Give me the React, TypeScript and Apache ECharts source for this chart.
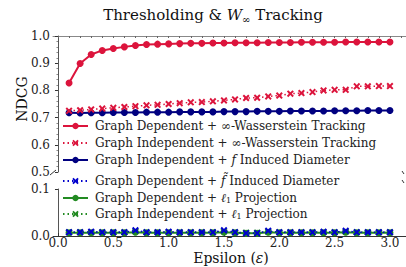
import React, { useEffect, useRef } from "react";
import * as echarts from "echarts";

const epsilon = [0.1, 0.2, 0.3, 0.4, 0.5, 0.6, 0.7, 0.8, 0.9, 1.0, 1.1, 1.2, 1.3, 1.4, 1.5, 1.6, 1.7, 1.8, 1.9, 2.0, 2.1, 2.2, 2.3, 2.4, 2.5, 2.6, 2.7, 2.8, 2.9, 3.0];

const depWass = [0.827, 0.899, 0.932, 0.947, 0.954, 0.960, 0.965, 0.969, 0.970, 0.971, 0.972, 0.973, 0.973, 0.974, 0.974, 0.975, 0.975, 0.975, 0.976, 0.976, 0.976, 0.977, 0.977, 0.977, 0.977, 0.978, 0.978, 0.978, 0.978, 0.978];
const indepWass = [0.725, 0.727, 0.730, 0.733, 0.736, 0.739, 0.742, 0.745, 0.747, 0.750, 0.753, 0.756, 0.757, 0.760, 0.763, 0.767, 0.772, 0.773, 0.778, 0.781, 0.788, 0.790, 0.794, 0.800, 0.802, 0.802, 0.815, 0.815, 0.816, 0.816];
const indepDiam = [0.718, 0.717, 0.718, 0.718, 0.719, 0.719, 0.719, 0.720, 0.720, 0.720, 0.721, 0.721, 0.721, 0.721, 0.722, 0.722, 0.722, 0.723, 0.723, 0.723, 0.724, 0.724, 0.724, 0.724, 0.725, 0.725, 0.725, 0.726, 0.726, 0.726];
const depDiam = [0.008, 0.008, 0.009, 0.008, 0.008, 0.008, 0.012, 0.008, 0.008, 0.009, 0.008, 0.008, 0.008, 0.008, 0.012, 0.008, 0.006, 0.006, 0.011, 0.008, 0.008, 0.008, 0.008, 0.009, 0.008, 0.011, 0.008, 0.008, 0.008, 0.008];
const depProj = [0.007, 0.007, 0.007, 0.007, 0.007, 0.007, 0.008, 0.007, 0.007, 0.007, 0.007, 0.007, 0.007, 0.007, 0.008, 0.007, 0.006, 0.006, 0.008, 0.007, 0.007, 0.007, 0.007, 0.007, 0.007, 0.008, 0.007, 0.007, 0.007, 0.007];
const indepProj = [0.008, 0.008, 0.008, 0.008, 0.008, 0.008, 0.010, 0.008, 0.008, 0.008, 0.008, 0.008, 0.008, 0.008, 0.010, 0.008, 0.007, 0.007, 0.009, 0.008, 0.008, 0.008, 0.008, 0.008, 0.008, 0.009, 0.008, 0.008, 0.008, 0.008];

const xTickLabels = [0, 0.5, 1.0, 1.5, 2.0, 2.5, 3.0];
const xMinorTicks = [0, 0.1, 0.2, 0.3, 0.4, 0.5, 0.6, 0.7, 0.8, 0.9, 1.0, 1.1, 1.2, 1.3, 1.4, 1.5, 1.6, 1.7, 1.8, 1.9, 2.0, 2.1, 2.2, 2.3, 2.4, 2.5, 2.6, 2.7, 2.8, 2.9, 3.0, 3.1];

const names = [
  "Graph Dependent + ∞-Wasserstein Tracking",
  "Graph Independent + ∞-Wasserstein Tracking",
  "Graph Independent + f Induced Diameter",
  "Graph Dependent + f̃ Induced Diameter",
  "Graph Dependent + l1 Projection",
  "Graph Independent + l1 Projection",
];
const legendLabels: Record<string, string> = {
  [names[0]]: names[0],
  [names[1]]: names[1],
  [names[2]]: "Graph Independent + {i|f} Induced Diameter",
  [names[3]]: "Graph Dependent + {i|f̃} Induced Diameter",
  [names[4]]: "Graph Dependent + {i|ℓ}{sub|1} Projection",
  [names[5]]: "Graph Independent + {i|ℓ}{sub|1} Projection",
};

const FONT = "DejaVu Serif";
const RED = "#DC143C";
const NAVY = "#000080";
const BLUE = "#0000CD";
const GREEN = "#228B22";
const XSYM = "path://M2,0 L5,3 L8,0 L10,2 L7,5 L10,8 L8,10 L5,7 L2,10 L0,8 L3,5 L0,2 Z";
const legendRows = [126, 143, 160, 181, 198, 214];

const pairs = (ys: number[]) => epsilon.map((x, i) => [x, ys[i]]);

export default function App() {
  const ref = useRef<HTMLDivElement>(null);
  useEffect(() => {
    const chart = echarts.init(ref.current!, null, { renderer: "svg" });
    const mkSeries = (name: string, ys: number[], color: string, lower: boolean, dotted: boolean, z: number) => ({
      name,
      type: "line",
      xAxisIndex: lower ? 1 : 0,
      yAxisIndex: lower ? 1 : 0,
      data: pairs(ys),
      symbol: dotted ? XSYM : "circle",
      symbolSize: 7,
      showSymbol: true,
      z,
      itemStyle: { color },
      lineStyle: { color, width: dotted ? 1.5 : 2, type: dotted ? [1.5, 3] : "solid" },
    });
    const legends = names.map((n, i) => ({
      orient: "vertical",
      left: 62,
      top: legendRows[i] - 7,
      padding: 0,
      itemWidth: 25,
      itemHeight: 8,
      data: [n],
      formatter: (nm: string) => legendLabels[nm],
      textStyle: {
        fontFamily: FONT, fontSize: 12, color: "#222", lineHeight: 14, padding: [0, 0, 0, 2],
        rich: {
          i: { fontFamily: FONT, fontSize: 12, fontStyle: "italic", color: "#222", lineHeight: 14 },
          sub: { fontFamily: FONT, fontSize: 8, color: "#222", lineHeight: 14, padding: [5, 0, 0, 0] },
        },
      },
    }));
    const option: any = {
      animation: false,
      textStyle: { fontFamily: FONT },
      grid: [
        { left: 53, top: 36, width: 356, height: 136 },
        { left: 53, top: 189, width: 356, height: 47 },
      ],
      xAxis: [
        {
          gridIndex: 0, type: "value", position: "top", min: -0.045, max: 3.145,
          axisLine: { show: true, lineStyle: { color: "#888", width: 1 } },
          axisTick: { show: true, inside: true, length: 2, customValues: xMinorTicks, lineStyle: { color: "#666" } },
          axisLabel: { show: false },
          splitLine: { show: false },
        },
        {
          gridIndex: 1, type: "value", position: "bottom", min: -0.045, max: 3.145,
          axisLine: { show: true, lineStyle: { color: "#333", width: 1 } },
          axisTick: { show: true, inside: true, length: 3, customValues: xTickLabels, lineStyle: { color: "#333" } },
          axisLabel: { show: true, customValues: xTickLabels, margin: 1, fontFamily: FONT, fontSize: 12, color: "#222", formatter: (v: number) => v.toFixed(1) },
          splitLine: { show: false },
        },
      ],
      yAxis: [
        {
          gridIndex: 0, type: "value", min: 0.5, max: 1.0, interval: 0.1,
          axisLine: { show: true, lineStyle: { color: "#555", width: 1 } },
          axisTick: { show: true, length: 3, lineStyle: { color: "#333" } },
          minorTick: { show: true, splitNumber: 5, length: 1.5, lineStyle: { color: "#888" } },
          axisLabel: { margin: 3, fontFamily: FONT, fontSize: 12, color: "#222", formatter: (v: number) => v.toFixed(1) },
          splitLine: { show: false },
        },
        {
          gridIndex: 1, type: "value", min: 0, max: 0.1, interval: 0.1,
          axisLine: { show: true, lineStyle: { color: "#555", width: 1 } },
          axisTick: { show: true, length: 3, lineStyle: { color: "#333" } },
          axisLabel: { margin: 3, fontFamily: FONT, fontSize: 12, color: "#222", formatter: (v: number) => v.toFixed(1) },
          splitLine: { show: false },
        },
      ],
      legend: legends,
      graphic: [
        {
          type: "text", x: 213, y: 15,
          style: {
            text: "Thresholding & {w|W}{s|∞} Tracking",
            textAlign: "center", textVerticalAlign: "middle",
            fontFamily: FONT, fontSize: 15, fill: "#111",
            rich: {
              w: { fontFamily: FONT, fontSize: 15, fontStyle: "italic", fill: "#111" },
              s: { fontFamily: FONT, fontSize: 10, fill: "#111", padding: [8, 0, 0, 0] },
            },
          },
        },
        {
          type: "text", x: 22, y: 99, rotation: Math.PI / 2,
          style: { text: "NDCG", textAlign: "center", textVerticalAlign: "middle", fontFamily: FONT, fontSize: 14, fill: "#111" },
        },
        {
          type: "text", x: 231, y: 258,
          style: { text: "Epsilon ({i|ε})", textAlign: "center", textVerticalAlign: "middle", fontFamily: FONT, fontSize: 14, fill: "#111",
            rich: { i: { fontFamily: FONT, fontSize: 14, fontStyle: "italic", fill: "#111" } } },
        },
        { type: "line", shape: { x1: 50, y1: 175, x2: 56, y2: 170 }, style: { stroke: "#333", lineWidth: 1 } },
        { type: "line", shape: { x1: 402, y1: 171, x2: 404, y2: 174 }, style: { stroke: "#333", lineWidth: 1 } },
        { type: "line", shape: { x1: 402, y1: 180, x2: 404, y2: 183 }, style: { stroke: "#333", lineWidth: 1 } },
      ],
      series: [
        mkSeries(names[0], depWass, RED, false, false, 5),
        mkSeries(names[1], indepWass, RED, false, true, 4),
        mkSeries(names[2], indepDiam, NAVY, false, false, 3),
        mkSeries(names[4], depProj, GREEN, true, false, 2),
        mkSeries(names[5], indepProj, GREEN, true, true, 3),
        mkSeries(names[3], depDiam, BLUE, true, true, 4),
      ],
    };
    chart.setOption(option);
    return () => chart.dispose();
  }, []);
  return <div ref={ref} style={{ position: "absolute", left: 0, top: 0, width: 406, height: 267 }} />;
}
